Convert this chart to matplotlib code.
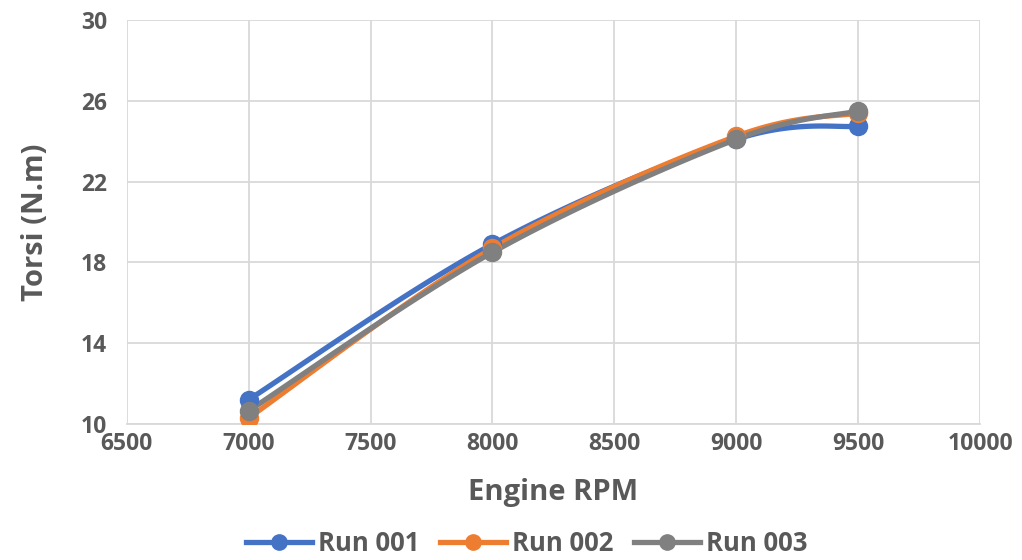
import numpy as np
import matplotlib
matplotlib.use('Agg')
import matplotlib.pyplot as plt

plt.rcParams['font.family'] = ['Open Sans', 'DejaVu Sans']

rpm = [7000, 8000, 9000, 9500]
run_001 = [11.2, 18.9, 24.1, 24.75]
run_002 = [10.3, 18.7, 24.25, 25.4]
run_003 = [10.65, 18.5, 24.1, 25.5]

x_ticks = [6500, 7000, 7500, 8000, 8500, 9000, 9500, 10000]
y_ticks = [10, 14, 18, 22, 26, 30]

series = [
    ('Run 001', run_001, '#4472C4'),
    ('Run 002', run_002, '#ED7D31'),
    ('Run 003', run_003, '#808080'),
]


def smooth(xs, ys, n=40):
    # Catmull-Rom style cubic Bezier through the points
    xs = np.asarray(xs, float)
    ys = np.asarray(ys, float)
    px = np.concatenate([[xs[0]], xs, [xs[-1]]])
    py = np.concatenate([[ys[0]], ys, [ys[-1]]])
    out_x, out_y = [], []
    t = np.linspace(0, 1, n)
    for i in range(1, len(px) - 2):
        p0 = np.array([px[i], py[i]])
        p3 = np.array([px[i + 1], py[i + 1]])
        p1 = p0 + (np.array([px[i + 1], py[i + 1]]) - np.array([px[i - 1], py[i - 1]])) / 6
        p2 = p3 - (np.array([px[i + 2], py[i + 2]]) - np.array([px[i], py[i]])) / 6
        b = ((1 - t) ** 3)[:, None] * p0 + (3 * (1 - t) ** 2 * t)[:, None] * p1 \
            + (3 * (1 - t) * t ** 2)[:, None] * p2 + (t ** 3)[:, None] * p3
        out_x.extend(b[:, 0])
        out_y.extend(b[:, 1])
    return out_x, out_y


fig = plt.figure(figsize=(10.22, 5.6), dpi=100)
ax = fig.add_axes([0.124, 0.243, 0.835, 0.721])

for name, vals, color in series:
    sx, sy = smooth(rpm, vals)
    ax.plot(sx, sy, color=color, lw=3.8, solid_capstyle='round', zorder=3)
    ax.plot(rpm, vals, 'o', color=color, ms=13, zorder=4)
    ax.plot([], [], '-o', color=color, lw=3.8, ms=11, label=name)

ax.set_xlim(6500, 10000)
ax.set_ylim(10, 30)
ax.set_xticks(x_ticks)
ax.set_yticks(y_ticks)
ax.grid(True, color='#D9D9D9', lw=1.3)
ax.set_axisbelow(True)
for side in ['top', 'right', 'left']:
    ax.spines[side].set_visible(False)
ax.spines['bottom'].set_color('#D9D9D9')
ax.spines['bottom'].set_linewidth(1.3)
ax.tick_params(length=0, labelsize=16.5, labelcolor='#595959')
ax.tick_params(axis='x', pad=6)
ax.tick_params(axis='y', pad=14)
for lbl in ax.get_xticklabels() + ax.get_yticklabels():
    lbl.set_fontweight('bold')

ax.set_xlabel('Engine RPM', fontsize=21, fontweight='bold', color='#595959', labelpad=16)
ax.set_ylabel('Torsi (N.m)', fontsize=21, fontweight='bold', color='#595959', labelpad=22)

leg = fig.legend(loc='center', bbox_to_anchor=(0.515, 0.03), ncol=3, frameon=False,
                 prop={'size': 18.5, 'weight': 'bold'}, handlelength=2.6,
                 columnspacing=0.8, handletextpad=0.2, labelcolor='#595959',
                 borderpad=0.1)

fig.savefig('out.png', dpi=100)
